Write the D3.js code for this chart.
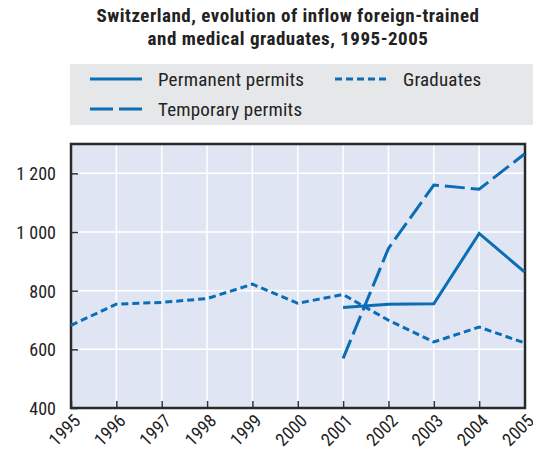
<!DOCTYPE html>
<html>
<head>
<meta charset="utf-8">
<script src="https://cdn.jsdelivr.net/npm/d3@7"></script>
<style>
  body { margin: 0; background: #fff; }
  text { font-family: "Liberation Sans Narrow", "Arial Narrow", "Roboto Condensed", sans-serif; fill: #222; }
</style>
</head>
<body>
<div id="chart"></div>
<script>
var width = 533, height = 456,
    margin = {top: 144, right: 8, bottom: 48, left: 71};

// values
var years = [1995, 1996, 1997, 1998, 1999, 2000, 2001, 2002, 2003, 2004, 2005];
var graduates = [682, 754, 760, 773, 822, 757, 787, 699, 625, 676, 622];
var permanentYears = [2001, 2002, 2003, 2004, 2005];
var permanent = [743, 754, 755, 995, 864];
var temporaryYears = [2001, 2002, 2003, 2004, 2005];
var temporary = [569, 944, 1160, 1146, 1266];
var yTicks = [400, 600, 800, 1000, 1200];
var yTickLabels = ["400", "600", "800", "1 000", "1 200"];

var blue = "#0a6db5";

var svg = d3.select("#chart").append("svg")
    .attr("width", width)
    .attr("height", height);

// title
var title = svg.append("text")
    .attr("text-anchor", "middle")
    .style("font-weight", "bold")
    .style("font-size", "19px")
    .style("letter-spacing", "0.5px");
title.append("tspan").attr("x", 288).attr("y", 22).text("Switzerland, evolution of inflow foreign-trained");
title.append("tspan").attr("x", 288).attr("y", 45).text("and medical graduates, 1995-2005");

// legend
var series = [
    {name: "Permanent permits", dash: null, x: 90, y: 79},
    {name: "Graduates", dash: "7,4", x: 335, y: 79},
    {name: "Temporary permits", dash: "23,6", x: 90, y: 109}
];
svg.append("rect")
    .attr("x", 70).attr("y", 64)
    .attr("width", width - 70).attr("height", 61)
    .attr("fill", "#e6e7e9");
var leg = svg.selectAll(".leg").data(series).enter().append("g")
    .attr("class", "leg")
    .attr("transform", function(d) { return "translate(" + d.x + "," + d.y + ")"; });
leg.append("line")
    .attr("x1", 0).attr("x2", 52).attr("y1", 0).attr("y2", 0)
    .attr("stroke", blue).attr("stroke-width", 3)
    .attr("stroke-dasharray", function(d) { return d.dash; });
leg.append("text")
    .attr("x", 68).attr("y", 7)
    .style("font-size", "19px")
    .style("letter-spacing", "0.2px")
    .text(function(d) { return d.name; });

var w = width - margin.left - margin.right,
    h = height - margin.top - margin.bottom;

var x = d3.scaleLinear().domain([1995, 2005]).range([0, w - 0.5]);
var y = d3.scaleLinear().domain([400, 1300]).range([h, 0]);

var g = svg.append("g")
    .attr("transform", "translate(" + margin.left + "," + margin.top + ")");

g.append("rect")
    .attr("width", w).attr("height", h)
    .attr("fill", "#dfe5f3");

// grid
g.selectAll(".vgrid").data(years).enter().append("line")
    .attr("x1", function(d) { return x(d); }).attr("x2", function(d) { return x(d); })
    .attr("y1", 0).attr("y2", h)
    .attr("stroke", "#fff").attr("stroke-width", 1.5);
g.selectAll(".hgrid").data(yTicks).enter().append("line")
    .attr("y1", function(d) { return y(d); }).attr("y2", function(d) { return y(d); })
    .attr("x1", 0).attr("x2", w)
    .attr("stroke", "#fff").attr("stroke-width", 1.5);

// axes
var yAxis = d3.axisLeft(y).tickValues(yTicks)
    .tickSize(-7).tickPadding(15)
    .tickFormat(function(d, i) { return yTickLabels[i]; });
var yAxisLine = g.append("g").call(yAxis);
yAxisLine.select(".domain").remove();
yAxisLine.selectAll("line").attr("stroke", "#333").attr("stroke-width", 1.5);
yAxisLine.selectAll("text").style("font-size", "18px").attr("fill", "#222")
    .attr("dy", "0.36em");

var xAxis = d3.axisBottom(x).tickValues(years)
    .tickSize(-7).tickFormat(d3.format("d"));
var xAxisLine = g.append("g")
    .attr("transform", "translate(0," + h + ")")
    .call(xAxis);
xAxisLine.select(".domain").remove();
xAxisLine.selectAll("line").attr("stroke", "#333").attr("stroke-width", 1.5);
xAxisLine.selectAll("text")
    .style("font-size", "18px")
    .attr("fill", "#222")
    .attr("text-anchor", "end")
    .attr("dy", null).attr("y", 0)
    .attr("transform", "translate(10,14) rotate(-45)");

// frame
g.append("rect")
    .attr("width", w).attr("height", h)
    .attr("fill", "none")
    .attr("stroke", "#2a2a2a").attr("stroke-width", 2.5);

var line = d3.line()
    .x(function(d) { return x(d[0]); })
    .y(function(d) { return y(d[1]); });

g.append("path")
    .datum(d3.zip(years, graduates))
    .attr("d", line)
    .attr("fill", "none").attr("stroke", blue).attr("stroke-width", 3)
    .attr("stroke-dasharray", "7,4");

g.append("path")
    .datum(d3.zip(permanentYears, permanent))
    .attr("d", line)
    .attr("fill", "none").attr("stroke", blue).attr("stroke-width", 3);

g.append("path")
    .datum(d3.zip(temporaryYears, temporary))
    .attr("d", line)
    .attr("fill", "none").attr("stroke", blue).attr("stroke-width", 3)
    .attr("stroke-dasharray", "20,6");
</script>
</body>
</html>
